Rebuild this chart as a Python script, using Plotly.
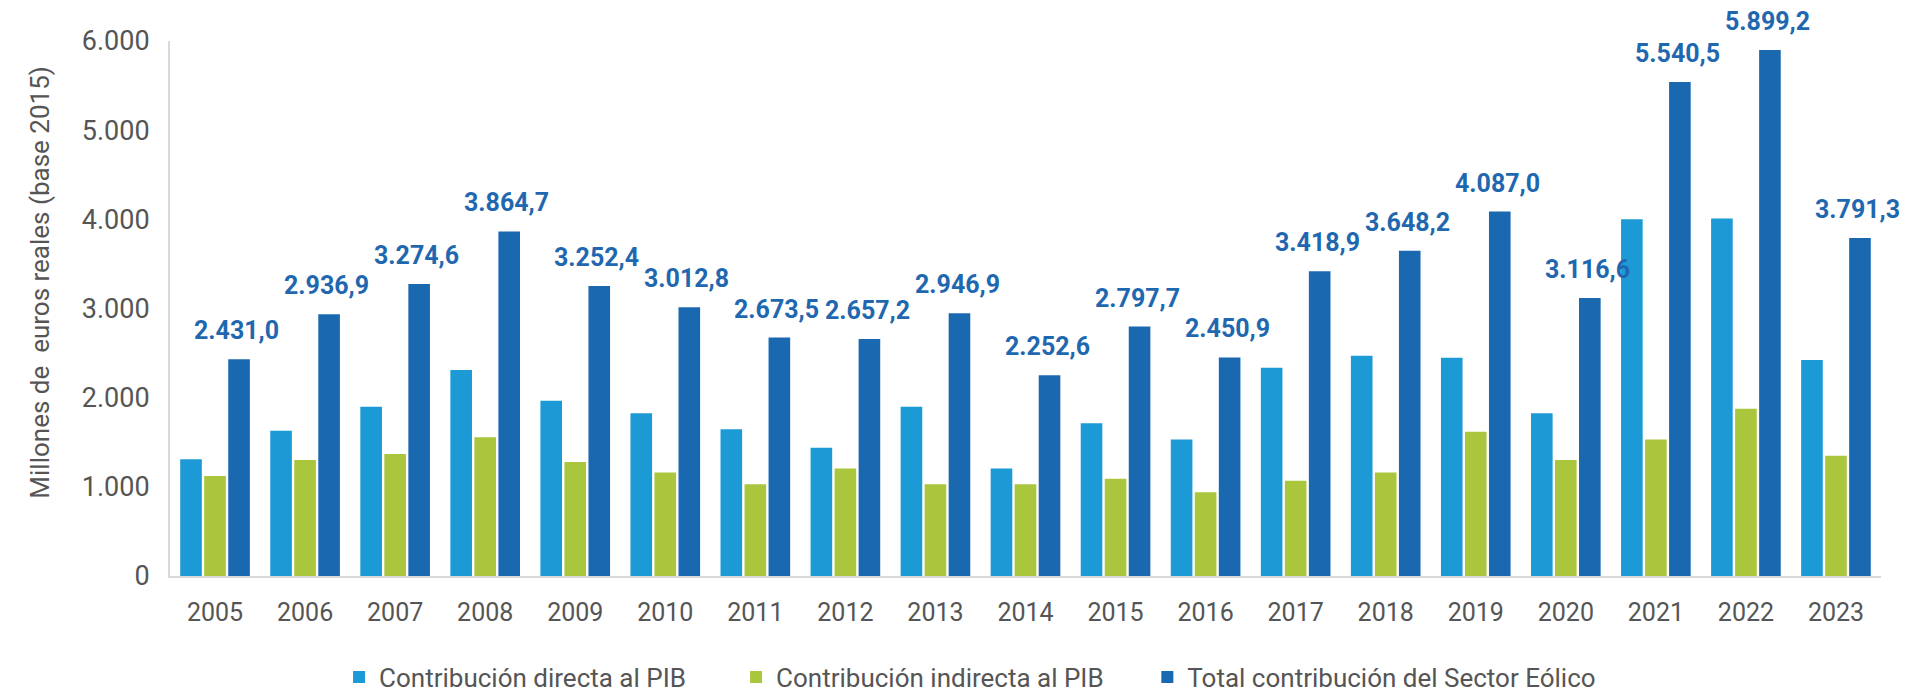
import plotly.graph_objects as go

years = [str(y) for y in range(2005, 2024)]
directa = [1308, 1629, 1898, 2309, 1965, 1824, 1645, 1438, 1898, 1207, 1712, 1532, 2335, 2470, 2447, 1824, 4002, 4010, 2422]
indirecta = [1121, 1300, 1368, 1555, 1278, 1162, 1028, 1207, 1028, 1028, 1091, 938, 1068, 1162, 1618, 1300, 1532, 1876, 1349]
total = [2431.0, 2936.9, 3274.6, 3864.7, 3252.4, 3012.8, 2673.5, 2657.2, 2946.9, 2252.6, 2797.7, 2450.9, 3418.9, 3648.2, 4087.0, 3116.6, 5540.5, 5899.2, 3791.3]
total_labels = ["2.431,0", "2.936,9", "3.274,6", "3.864,7", "3.252,4", "3.012,8", "2.673,5", "2.657,2", "2.946,9", "2.252,6", "2.797,7", "2.450,9", "3.418,9", "3.648,2", "4.087,0", "3.116,6", "5.540,5", "5.899,2", "3.791,3"]

names = ["Contribución directa al PIB", "Contribución indirecta al PIB", "Total contribución del Sector Eólico"]
name_pad = [7, 6, 0]  # trailing non-breaking spaces to space the legend entries
colors = ["#1b9ad6", "#a9c63d", "#1a68b0"]

FONT = "Roboto"
GREY = "#555555"

fig = go.Figure()
for vals, name, pad, col in zip([directa, indirecta, total], names, name_pad, colors):
    fig.add_trace(go.Bar(x=years, y=vals, name=name + "\u00a0" * pad,
                         marker=dict(color=col, line=dict(width=0)), hoverinfo="skip"))

# value labels over total bars (category index on the x axis, shifted onto the third bar)
for i, (v, lab) in enumerate(zip(total, total_labels)):
    fig.add_annotation(x=i + 0.24, y=v, text=lab, showarrow=False, yanchor="bottom", xanchor="center",
                       yshift=12, font=dict(family=FONT, size=25, color="#1f68b0", weight="bold"))

fig.add_annotation(xref="paper", yref="paper", x=-0.076, y=0.55, text="Millones de\u00a0 euros reales (base 2015)",
                   textangle=-90, showarrow=False, xanchor="center", yanchor="middle",
                   font=dict(family=FONT, size=26, color=GREY))

fig.update_layout(
    width=1921, height=695,
    margin=dict(l=162, r=48, t=33, b=127, autoexpand=False),
    paper_bgcolor="white", plot_bgcolor="white",
    barmode="group", bargap=0.2, bargroupgap=0.1,
    separators=",.",
    font=dict(family=FONT, color=GREY),
    showlegend=True,
    legend=dict(orientation="h", x=0.0988, xanchor="left", y=-0.189, yanchor="middle",
                font=dict(family=FONT, size=26, color=GREY), traceorder="normal"),
    xaxis=dict(type="category", range=[-0.5, 18.5], showline=True, linecolor="#d9d9d9", linewidth=2, showgrid=False,
               ticks="", tickfont=dict(family=FONT, size=25, color=GREY), ticklabelstandoff=13),
    yaxis=dict(range=[0, 6000], tickvals=[0, 1000, 2000, 3000, 4000, 5000, 6000], tickformat=",d",
               showline=True, linecolor="#d9d9d9", linewidth=2, showgrid=False, zeroline=False,
               ticks="", tickfont=dict(family=FONT, size=27, color=GREY), ticklabelstandoff=13),
)

fig.write_html("out.html")
